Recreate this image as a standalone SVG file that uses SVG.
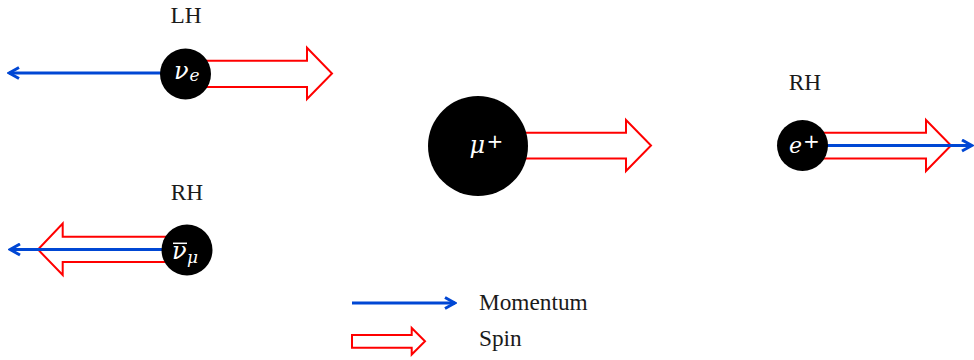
<svg xmlns="http://www.w3.org/2000/svg" width="974" height="360" viewBox="0 0 974 360">
<style>
.spin{fill:#fff;stroke:#ff0000;stroke-width:2}
.mom{fill:none;stroke:#0047d4;stroke-width:3}
.ball{fill:#000}
.lbl{font-family:"Liberation Serif","Times New Roman",serif;font-size:23.3px;fill:#1a1a1a}
.sym{font-family:"DejaVu Serif",serif;font-style:italic;fill:#fff}
.sup{font-family:"DejaVu Sans",sans-serif;font-style:normal;fill:#fff}
</style>
<defs>
<marker id="mh" viewBox="0 0 14 14" refX="12" refY="7" markerWidth="14" markerHeight="14" markerUnits="userSpaceOnUse" orient="auto">
<path d="M2,1.5 L12,7 L2,12.5" fill="none" stroke="#0047d4" stroke-width="3"/>
</marker>
</defs>
<rect width="974" height="360" fill="#fff"/>
<g id="connectors">
<polygon class="spin" points="195,60.7 307,60.7 307,47.7 332,73.5 307,99 307,87 195,87"/>
<polygon class="spin" points="180,236.7 62.7,236.7 62.7,223.5 38,249.5 62.7,275 62.7,262 180,262"/>
<polygon class="spin" points="510,132.7 626,132.7 626,120 651,145.5 626,171 626,158.5 510,158.5"/>
<polygon class="spin" points="815,132.7 926,132.7 926,120 951,145.5 926,171 926,158.5 815,158.5"/>
<line class="mom" x1="185" y1="73" x2="9" y2="73" marker-end="url(#mh)"/>
<line class="mom" x1="187" y1="249.5" x2="10" y2="249.5" marker-end="url(#mh)"/>
<line class="mom" x1="802" y1="145.5" x2="972" y2="145.5" marker-end="url(#mh)"/>
</g>
<g id="nu_e">
<text class="lbl" x="186" y="23" text-anchor="middle">LH</text>
<circle class="ball" cx="185.5" cy="74" r="25.5"/>
<text class="sym" x="174" y="78.5" font-size="24">ν</text>
<text class="sym" x="189.5" y="81" font-size="17">e</text>
</g>
<g id="nubar_mu">
<text class="lbl" x="187" y="200" text-anchor="middle">RH</text>
<circle class="ball" cx="187" cy="250" r="25.5"/>
<line x1="173" y1="243.3" x2="187" y2="243.3" stroke="#fff" stroke-width="1.5"/>
<text class="sym" x="172" y="258.5" font-size="24">ν</text>
<text class="sym" x="187" y="263" font-size="17">μ</text>
</g>
<g id="mu_plus">
<circle class="ball" cx="478" cy="146" r="50"/>
<text class="sym" x="469.5" y="152.5" font-size="24">μ</text>
<text class="sup" x="486.5" y="147.5" font-size="20">+</text>
</g>
<g id="e_plus">
<text class="lbl" x="805" y="90" text-anchor="middle">RH</text>
<circle class="ball" cx="802.5" cy="145.5" r="25.5"/>
<text class="sym" x="789" y="153.3" font-size="22">e</text>
<text class="sup" x="803" y="147.5" font-size="20">+</text>
</g>
<g id="legend">
<line class="mom" x1="352" y1="303" x2="455" y2="303" marker-end="url(#mh)"/>
<polygon class="spin" points="352,335 411.7,335 411.7,328 425,341.3 411.7,354.5 411.7,347.7 352,347.7"/>
<text class="lbl" x="479" y="310">Momentum</text>
<text class="lbl" x="479" y="346">Spin</text>
</g>
</svg>
